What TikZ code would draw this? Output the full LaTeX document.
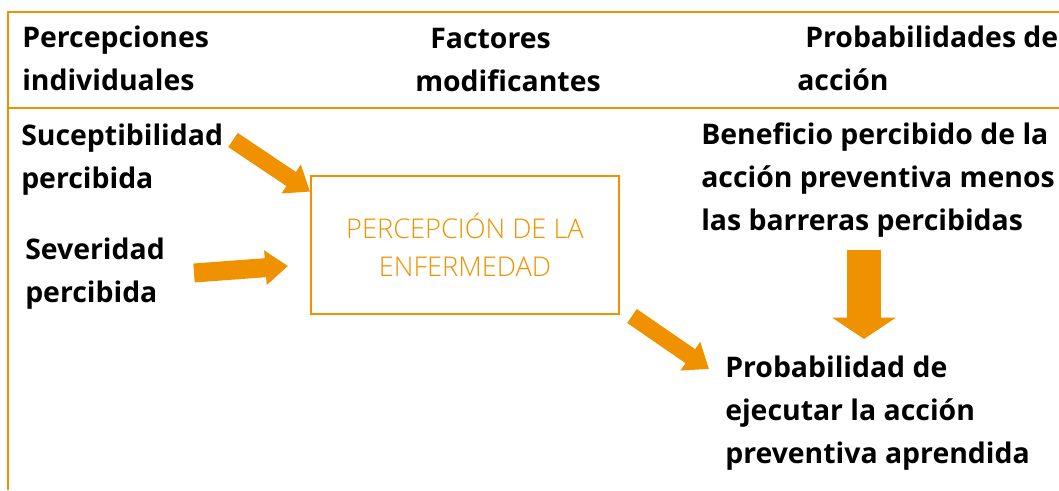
\documentclass[tikz,border=0pt]{standalone}
\usepackage{fontspec}
\setmainfont{Open Sans}
\newfontfamily\lightfont{Open Sans Light}
\usetikzlibrary{arrows.meta, positioning, calc}
\definecolor{naranja}{RGB}{240,146,0}

\begin{document}
\begin{tikzpicture}[
    x=0.75pt, y=-0.75pt,
    frame/.style={draw=naranja, line width=1.5pt},
    texto/.style={anchor=base west, align=left, inner sep=0pt, text=black,
        font=\bfseries\fontsize{21.3pt}{32.25pt}\selectfont},
    caja/.style={rectangle, draw=naranja, line width=1.5pt, minimum width=231pt,
        minimum height=103.5pt, align=center, text=naranja,
        font=\lightfont\fontsize{20.4pt}{28.5pt}\selectfont},
    flecha/.style={naranja, line width=12.75pt, -{Triangle[width=25pt, length=17pt]}},
    flechagrande/.style={naranja, line width=25.5pt, -{Triangle[width=47pt, length=16pt]}}
]
    \useasboundingbox (0,0) rectangle (1059,490);

    % Frame ------------------------------------------------------

    \draw[frame] (1059,12) -- (8,12) -- (8,490);
    \draw[frame] (8,108) -- (1059,108);

    % Nodes (anchored at the baseline of the last line) ---------

    \node[texto] (percep) at (22,90) {Percepciones\\individuales};
    \node[texto] (factores) at (415,91) {\hspace*{11.25pt}Factores\\modificantes};
    \node[texto] (probab) at (797,90) {\hspace*{6pt}Probabilidades de\\acción};

    \node[texto] (susc) at (21,188) {Suceptibilidad\\percibida};
    \node[texto] (sev) at (25,302) {Severidad\\percibida};
    \node[caja] (box) at (465,245) {PERCEPCIÓN DE LA\\ENFERMEDAD};
    \node[texto] (benef) at (701,230) {Beneficio percibido de la\\acción preventiva menos\\las barreras percibidas};
    \node[texto] (prob) at (725,463) {Probabilidad de\\ejecutar la acción\\preventiva aprendida};

    % Arrows ---------------------------------------------------

    \coordinate (a1) at (233,140);
    \coordinate (a2) at (194,273);
    \coordinate (a2t) at (288,266);
    \coordinate (a3) at (632,316);
    \coordinate (a3t) at (709,369);
    \coordinate (a4) at (864,250);
    \coordinate (a4t) at (864,339);

    \draw[flecha] (a1) -- (box.161);
    \draw[flecha, line width=14.25pt] (a2) -- (a2t);
    \draw[flecha] (a3) -- (a3t);
    \draw[flechagrande] (a4) -- (a4t);

\end{tikzpicture}
\end{document}
